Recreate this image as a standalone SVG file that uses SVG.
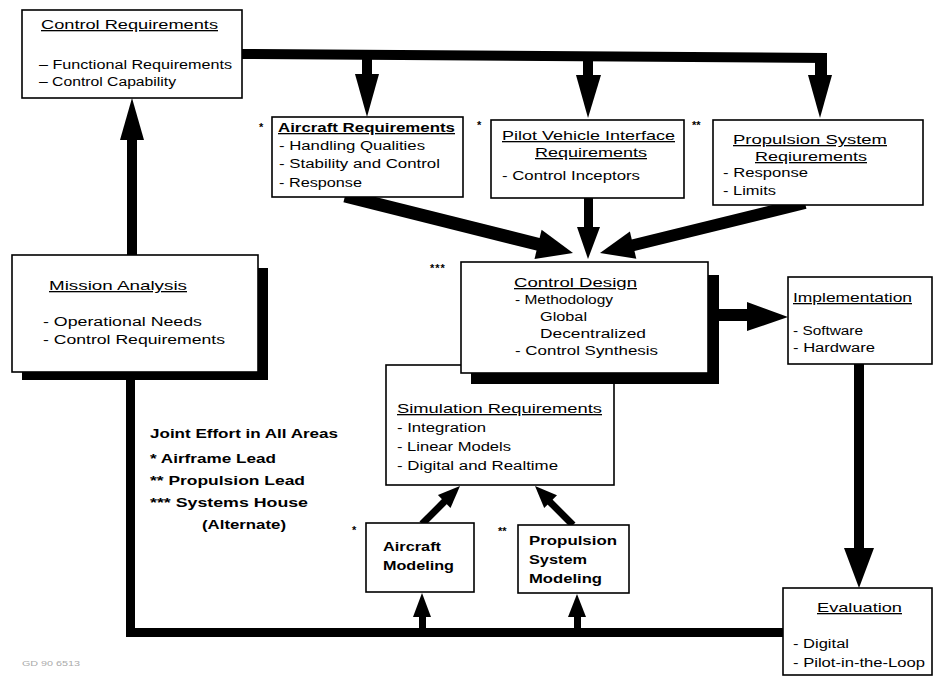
<svg xmlns="http://www.w3.org/2000/svg" width="934" height="677" viewBox="0 0 934 677">
<style>
.box{fill:#fff;stroke:#000;stroke-width:1.6}
.sh{fill:#000}
text{font-family:"Liberation Sans",Arial,sans-serif;fill:#000}
.ti{font-size:13px;text-decoration:underline}
.tb{font-size:13px;font-weight:bold;text-decoration:underline}
.it{font-size:12px}
.bd{font-size:13.5px;font-weight:bold}
.ast{font-size:11px;font-weight:bold}
.code{font-size:8px;fill:#aaa}
.ln{stroke:#000;fill:none}
</style>
<rect width="934" height="677" fill="#fff"/>
<g id="connectors" fill="#000">
  <polygon points="242,49 827,53 827,63 242,59"/>
  <rect x="362" y="56" width="10" height="20"/>
  <polygon points="355,74 379,74 367,117"/>
  <rect x="583" y="56" width="10" height="21"/>
  <polygon points="576,75 601,75 588,118"/>
  <rect x="815" y="55" width="12" height="22"/>
  <polygon points="808,75 832,75 820,118"/>
  <rect x="127" y="138" width="10" height="120"/>
  <polygon points="120,140 144,140 132,98"/>
  <rect x="126" y="375" width="9" height="262"/>
  <rect x="126" y="628" width="660" height="9"/>
  <rect x="419" y="614" width="7" height="16"/>
  <polygon points="413,617 431,617 422,593"/>
  <rect x="574" y="614" width="7" height="16"/>
  <polygon points="568,617 586,617 577,594"/>
  <line class="ln" x1="422" y1="524" x2="446" y2="500" stroke-width="7"/>
  <polygon points="460,486 450.5,507.9 437.9,494.9"/>
  <line class="ln" x1="573" y1="525" x2="549" y2="501" stroke-width="7"/>
  <polygon points="535,486 557,495.2 544.2,508"/>
  <line class="ln" x1="345" y1="196" x2="541" y2="245" stroke-width="13"/>
  <polygon points="573,253 534.5,259 541.6,229.8"/>
  <line class="ln" x1="805" y1="203" x2="630" y2="246" stroke-width="12"/>
  <polygon points="600,253 636.3,258.8 629.9,231.6"/>
  <rect x="584" y="196" width="9" height="33"/>
  <polygon points="577,227 600,227 588,259"/>
  <rect x="715" y="309" width="34" height="12"/>
  <polygon points="747,302 747,331 788,317"/>
  <rect x="854" y="362" width="10" height="188"/>
  <polygon points="844,548 874,548 859,588"/>
</g>
<g id="control-requirements">
  <rect class="box" x="22" y="10" width="220" height="88"/>
  <text class="ti" x="41" y="29" textLength="177" lengthAdjust="spacingAndGlyphs">Control Requirements</text>
  <text class="it" x="39" y="69" textLength="193" lengthAdjust="spacingAndGlyphs">– Functional Requirements</text>
  <text class="it" x="39" y="86" textLength="137" lengthAdjust="spacingAndGlyphs">– Control Capability</text>
</g>
<g id="aircraft-requirements">
  <text class="ast" x="259" y="131">*</text>
  <rect class="box" x="272" y="117" width="191" height="80"/>
  <text class="tb" x="278" y="132" textLength="177" lengthAdjust="spacingAndGlyphs">Aircraft Requirements</text>
  <text class="it" x="279" y="150" textLength="146" lengthAdjust="spacingAndGlyphs">- Handling Qualities</text>
  <text class="it" x="279" y="168" textLength="161" lengthAdjust="spacingAndGlyphs">- Stability and Control</text>
  <text class="it" x="279" y="187" textLength="83" lengthAdjust="spacingAndGlyphs">- Response</text>
</g>
<g id="pvi-requirements">
  <text class="ast" x="477" y="129">*</text>
  <rect class="box" x="491" y="120" width="193" height="78"/>
  <text class="ti" x="502" y="140" textLength="173" lengthAdjust="spacingAndGlyphs">Pilot Vehicle Interface</text>
  <text class="ti" x="535" y="157" textLength="112" lengthAdjust="spacingAndGlyphs">Requirements</text>
  <text class="it" x="502" y="180" textLength="138" lengthAdjust="spacingAndGlyphs">- Control Inceptors</text>
</g>
<g id="propulsion-requirements">
  <text class="ast" x="692" y="129">**</text>
  <rect class="box" x="713" y="120" width="210" height="85"/>
  <text class="ti" x="733" y="144" textLength="154" lengthAdjust="spacingAndGlyphs">Propulsion System</text>
  <text class="ti" x="755" y="161" textLength="112" lengthAdjust="spacingAndGlyphs">Reqiurements</text>
  <text class="it" x="723" y="177" textLength="85" lengthAdjust="spacingAndGlyphs">- Response</text>
  <text class="it" x="723" y="195" textLength="53" lengthAdjust="spacingAndGlyphs">- Limits</text>
</g>
<g id="simulation-requirements">
  <rect class="box" x="386" y="365" width="228" height="120"/>
  <text class="ti" x="397" y="413" textLength="205" lengthAdjust="spacingAndGlyphs">Simulation Requirements</text>
  <text class="it" x="397" y="432" textLength="89" lengthAdjust="spacingAndGlyphs">- Integration</text>
  <text class="it" x="397" y="451" textLength="114" lengthAdjust="spacingAndGlyphs">- Linear Models</text>
  <text class="it" x="397" y="470" textLength="161" lengthAdjust="spacingAndGlyphs">- Digital and Realtime</text>
</g>
<g id="control-design">
  <text class="ast" x="430" y="272" letter-spacing="1">***</text>
  <rect class="sh" x="471" y="275" width="248" height="109"/>
  <rect class="box" x="461" y="262" width="247" height="111"/>
  <text class="ti" x="514" y="287" textLength="123" lengthAdjust="spacingAndGlyphs">Control Design</text>
  <text class="it" x="515" y="304" textLength="98" lengthAdjust="spacingAndGlyphs">- Methodology</text>
  <text class="it" x="540" y="321" textLength="47" lengthAdjust="spacingAndGlyphs">Global</text>
  <text class="it" x="540" y="338" textLength="106" lengthAdjust="spacingAndGlyphs">Decentralized</text>
  <text class="it" x="515" y="355" textLength="143" lengthAdjust="spacingAndGlyphs">- Control Synthesis</text>
</g>
<g id="implementation">
  <rect class="box" x="788" y="277" width="144" height="87"/>
  <text class="ti" x="793" y="302" textLength="119" lengthAdjust="spacingAndGlyphs">Implementation</text>
  <text class="it" x="793" y="335" textLength="70" lengthAdjust="spacingAndGlyphs">- Software</text>
  <text class="it" x="793" y="352" textLength="82" lengthAdjust="spacingAndGlyphs">- Hardware</text>
</g>
<g id="mission-analysis">
  <rect class="sh" x="22" y="268" width="246" height="112"/>
  <rect class="box" x="12" y="255" width="246" height="117"/>
  <text class="ti" x="49" y="290" textLength="138" lengthAdjust="spacingAndGlyphs">Mission Analysis</text>
  <text class="it" x="43" y="326" textLength="159" lengthAdjust="spacingAndGlyphs">- Operational Needs</text>
  <text class="it" x="43" y="344" textLength="182" lengthAdjust="spacingAndGlyphs">- Control Requirements</text>
</g>
<g id="aircraft-modeling">
  <text class="ast" x="352" y="534">*</text>
  <rect class="box" x="366" y="523" width="108" height="69"/>
  <text class="bd" x="383" y="551" textLength="58" lengthAdjust="spacingAndGlyphs">Aircraft</text>
  <text class="bd" x="383" y="570" textLength="71" lengthAdjust="spacingAndGlyphs">Modeling</text>
</g>
<g id="propulsion-modeling">
  <text class="ast" x="498" y="535">**</text>
  <rect class="box" x="518" y="525" width="111" height="68"/>
  <text class="bd" x="529" y="545" textLength="88" lengthAdjust="spacingAndGlyphs">Propulsion</text>
  <text class="bd" x="529" y="564" textLength="58" lengthAdjust="spacingAndGlyphs">System</text>
  <text class="bd" x="529" y="583" textLength="73" lengthAdjust="spacingAndGlyphs">Modeling</text>
</g>
<g id="evaluation">
  <rect class="box" x="783" y="588" width="149" height="87"/>
  <text class="ti" x="817" y="612" textLength="85" lengthAdjust="spacingAndGlyphs">Evaluation</text>
  <text class="it" x="793" y="648" textLength="56" lengthAdjust="spacingAndGlyphs">- Digital</text>
  <text class="it" x="793" y="667" textLength="132" lengthAdjust="spacingAndGlyphs">- Pilot-in-the-Loop</text>
</g>
<g id="legend">
  <text class="bd" x="150" y="438" textLength="188" lengthAdjust="spacingAndGlyphs">Joint Effort in All Areas</text>
  <text class="bd" x="150" y="463" textLength="126" lengthAdjust="spacingAndGlyphs">* Airframe Lead</text>
  <text class="bd" x="150" y="485" textLength="155" lengthAdjust="spacingAndGlyphs">** Propulsion Lead</text>
  <text class="bd" x="150" y="507" textLength="158" lengthAdjust="spacingAndGlyphs">*** Systems House</text>
  <text class="bd" x="202" y="529" textLength="84" lengthAdjust="spacingAndGlyphs">(Alternate)</text>
</g>
<text class="code" x="22" y="666" textLength="58" lengthAdjust="spacingAndGlyphs">GD 90 6513</text>
</svg>
